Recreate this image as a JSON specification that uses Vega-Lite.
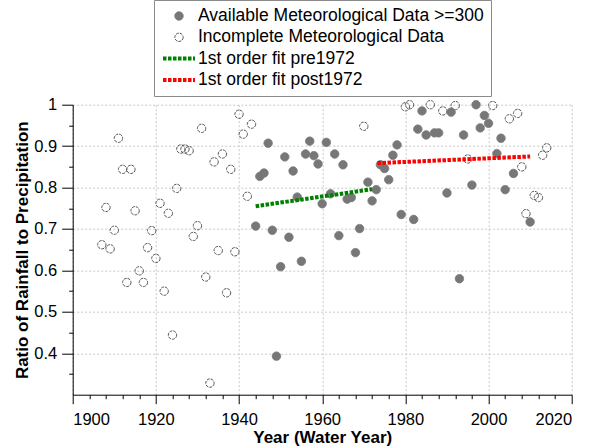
{
  "$schema": "https://vega.github.io/schema/vega-lite/v6.json",
  "width": 499,
  "height": 290,
  "autosize": {"type": "none"},
  "padding": {"left": 72.7, "top": 104.7, "right": 28.3, "bottom": 52.3},
  "background": "white",
  "config": {
    "view": {"stroke": null},
    "font": "Liberation Sans",
    "axis": {
      "domainColor": "black",
      "tickColor": "black",
      "labelColor": "black",
      "titleColor": "black",
      "labelFont": "Liberation Sans",
      "titleFont": "Liberation Sans",
      "labelFontSize": 16.5,
      "titleFontSize": 17,
      "titleFontWeight": "bold",
      "gridColor": "#c8c8c8",
      "gridDash": [2, 2],
      "domainWidth": 1,
      "tickWidth": 1
    }
  },
  "datasets": {
    "obs": [
      {"year": 1907, "ratio": 0.662, "series": "Incomplete Meteorological Data"},
      {"year": 1908, "ratio": 0.752, "series": "Incomplete Meteorological Data"},
      {"year": 1909, "ratio": 0.652, "series": "Incomplete Meteorological Data"},
      {"year": 1910, "ratio": 0.697, "series": "Incomplete Meteorological Data"},
      {"year": 1911, "ratio": 0.919, "series": "Incomplete Meteorological Data"},
      {"year": 1912, "ratio": 0.844, "series": "Incomplete Meteorological Data"},
      {"year": 1913, "ratio": 0.571, "series": "Incomplete Meteorological Data"},
      {"year": 1914, "ratio": 0.844, "series": "Incomplete Meteorological Data"},
      {"year": 1915, "ratio": 0.744, "series": "Incomplete Meteorological Data"},
      {"year": 1916, "ratio": 0.599, "series": "Incomplete Meteorological Data"},
      {"year": 1917, "ratio": 0.571, "series": "Incomplete Meteorological Data"},
      {"year": 1918, "ratio": 0.655, "series": "Incomplete Meteorological Data"},
      {"year": 1919, "ratio": 0.696, "series": "Incomplete Meteorological Data"},
      {"year": 1920, "ratio": 0.629, "series": "Incomplete Meteorological Data"},
      {"year": 1921, "ratio": 0.762, "series": "Incomplete Meteorological Data"},
      {"year": 1922, "ratio": 0.550, "series": "Incomplete Meteorological Data"},
      {"year": 1923, "ratio": 0.738, "series": "Incomplete Meteorological Data"},
      {"year": 1924, "ratio": 0.444, "series": "Incomplete Meteorological Data"},
      {"year": 1925, "ratio": 0.798, "series": "Incomplete Meteorological Data"},
      {"year": 1926, "ratio": 0.893, "series": "Incomplete Meteorological Data"},
      {"year": 1927, "ratio": 0.893, "series": "Incomplete Meteorological Data"},
      {"year": 1928, "ratio": 0.889, "series": "Incomplete Meteorological Data"},
      {"year": 1929, "ratio": 0.682, "series": "Incomplete Meteorological Data"},
      {"year": 1930, "ratio": 0.708, "series": "Incomplete Meteorological Data"},
      {"year": 1931, "ratio": 0.943, "series": "Incomplete Meteorological Data"},
      {"year": 1932, "ratio": 0.584, "series": "Incomplete Meteorological Data"},
      {"year": 1933, "ratio": 0.328, "series": "Incomplete Meteorological Data"},
      {"year": 1934, "ratio": 0.862, "series": "Incomplete Meteorological Data"},
      {"year": 1935, "ratio": 0.648, "series": "Incomplete Meteorological Data"},
      {"year": 1936, "ratio": 0.881, "series": "Incomplete Meteorological Data"},
      {"year": 1937, "ratio": 0.546, "series": "Incomplete Meteorological Data"},
      {"year": 1938, "ratio": 0.844, "series": "Incomplete Meteorological Data"},
      {"year": 1939, "ratio": 0.645, "series": "Incomplete Meteorological Data"},
      {"year": 1940, "ratio": 0.977, "series": "Incomplete Meteorological Data"},
      {"year": 1941, "ratio": 0.929, "series": "Incomplete Meteorological Data"},
      {"year": 1942, "ratio": 0.779, "series": "Incomplete Meteorological Data"},
      {"year": 1943, "ratio": 0.953, "series": "Incomplete Meteorological Data"},
      {"year": 1970, "ratio": 0.948, "series": "Incomplete Meteorological Data"},
      {"year": 1980, "ratio": 0.995, "series": "Incomplete Meteorological Data"},
      {"year": 1981, "ratio": 1.0, "series": "Incomplete Meteorological Data"},
      {"year": 1986, "ratio": 1.0, "series": "Incomplete Meteorological Data"},
      {"year": 1989, "ratio": 0.985, "series": "Incomplete Meteorological Data"},
      {"year": 1992, "ratio": 0.998, "series": "Incomplete Meteorological Data"},
      {"year": 1995, "ratio": 0.869, "series": "Incomplete Meteorological Data"},
      {"year": 2001, "ratio": 0.998, "series": "Incomplete Meteorological Data"},
      {"year": 2005, "ratio": 0.966, "series": "Incomplete Meteorological Data"},
      {"year": 2007, "ratio": 0.979, "series": "Incomplete Meteorological Data"},
      {"year": 2008, "ratio": 0.850, "series": "Incomplete Meteorological Data"},
      {"year": 2009, "ratio": 0.737, "series": "Incomplete Meteorological Data"},
      {"year": 2011, "ratio": 0.781, "series": "Incomplete Meteorological Data"},
      {"year": 2012, "ratio": 0.776, "series": "Incomplete Meteorological Data"},
      {"year": 2013, "ratio": 0.878, "series": "Incomplete Meteorological Data"},
      {"year": 2014, "ratio": 0.896, "series": "Incomplete Meteorological Data"},
      {"year": 1944, "ratio": 0.707, "series": "Available Meteorological Data >=300"},
      {"year": 1945, "ratio": 0.827, "series": "Available Meteorological Data >=300"},
      {"year": 1946, "ratio": 0.835, "series": "Available Meteorological Data >=300"},
      {"year": 1947, "ratio": 0.907, "series": "Available Meteorological Data >=300"},
      {"year": 1948, "ratio": 0.697, "series": "Available Meteorological Data >=300"},
      {"year": 1949, "ratio": 0.393, "series": "Available Meteorological Data >=300"},
      {"year": 1950, "ratio": 0.609, "series": "Available Meteorological Data >=300"},
      {"year": 1951, "ratio": 0.874, "series": "Available Meteorological Data >=300"},
      {"year": 1952, "ratio": 0.680, "series": "Available Meteorological Data >=300"},
      {"year": 1953, "ratio": 0.840, "series": "Available Meteorological Data >=300"},
      {"year": 1954, "ratio": 0.777, "series": "Available Meteorological Data >=300"},
      {"year": 1955, "ratio": 0.622, "series": "Available Meteorological Data >=300"},
      {"year": 1956, "ratio": 0.881, "series": "Available Meteorological Data >=300"},
      {"year": 1957, "ratio": 0.912, "series": "Available Meteorological Data >=300"},
      {"year": 1958, "ratio": 0.877, "series": "Available Meteorological Data >=300"},
      {"year": 1959, "ratio": 0.857, "series": "Available Meteorological Data >=300"},
      {"year": 1960, "ratio": 0.761, "series": "Available Meteorological Data >=300"},
      {"year": 1961, "ratio": 0.909, "series": "Available Meteorological Data >=300"},
      {"year": 1962, "ratio": 0.785, "series": "Available Meteorological Data >=300"},
      {"year": 1963, "ratio": 0.881, "series": "Available Meteorological Data >=300"},
      {"year": 1964, "ratio": 0.684, "series": "Available Meteorological Data >=300"},
      {"year": 1965, "ratio": 0.855, "series": "Available Meteorological Data >=300"},
      {"year": 1966, "ratio": 0.772, "series": "Available Meteorological Data >=300"},
      {"year": 1967, "ratio": 0.776, "series": "Available Meteorological Data >=300"},
      {"year": 1968, "ratio": 0.643, "series": "Available Meteorological Data >=300"},
      {"year": 1969, "ratio": 0.701, "series": "Available Meteorological Data >=300"},
      {"year": 1971, "ratio": 0.813, "series": "Available Meteorological Data >=300"},
      {"year": 1972, "ratio": 0.768, "series": "Available Meteorological Data >=300"},
      {"year": 1973, "ratio": 0.795, "series": "Available Meteorological Data >=300"},
      {"year": 1974, "ratio": 0.855, "series": "Available Meteorological Data >=300"},
      {"year": 1975, "ratio": 0.846, "series": "Available Meteorological Data >=300"},
      {"year": 1976, "ratio": 0.819, "series": "Available Meteorological Data >=300"},
      {"year": 1977, "ratio": 0.878, "series": "Available Meteorological Data >=300"},
      {"year": 1978, "ratio": 0.903, "series": "Available Meteorological Data >=300"},
      {"year": 1979, "ratio": 0.735, "series": "Available Meteorological Data >=300"},
      {"year": 1982, "ratio": 0.723, "series": "Available Meteorological Data >=300"},
      {"year": 1983, "ratio": 0.941, "series": "Available Meteorological Data >=300"},
      {"year": 1984, "ratio": 0.985, "series": "Available Meteorological Data >=300"},
      {"year": 1985, "ratio": 0.927, "series": "Available Meteorological Data >=300"},
      {"year": 1987, "ratio": 0.932, "series": "Available Meteorological Data >=300"},
      {"year": 1988, "ratio": 0.932, "series": "Available Meteorological Data >=300"},
      {"year": 1990, "ratio": 0.787, "series": "Available Meteorological Data >=300"},
      {"year": 1991, "ratio": 0.982, "series": "Available Meteorological Data >=300"},
      {"year": 1993, "ratio": 0.580, "series": "Available Meteorological Data >=300"},
      {"year": 1994, "ratio": 0.927, "series": "Available Meteorological Data >=300"},
      {"year": 1996, "ratio": 0.806, "series": "Available Meteorological Data >=300"},
      {"year": 1997, "ratio": 1.0, "series": "Available Meteorological Data >=300"},
      {"year": 1998, "ratio": 0.944, "series": "Available Meteorological Data >=300"},
      {"year": 1999, "ratio": 0.974, "series": "Available Meteorological Data >=300"},
      {"year": 2000, "ratio": 0.955, "series": "Available Meteorological Data >=300"},
      {"year": 2002, "ratio": 0.882, "series": "Available Meteorological Data >=300"},
      {"year": 2003, "ratio": 0.919, "series": "Available Meteorological Data >=300"},
      {"year": 2004, "ratio": 0.795, "series": "Available Meteorological Data >=300"},
      {"year": 2006, "ratio": 0.834, "series": "Available Meteorological Data >=300"},
      {"year": 2010, "ratio": 0.717, "series": "Available Meteorological Data >=300"}
    ],
    "fit": [
      {"year": 1944, "ratio": 0.755, "series": "1st order fit pre1972"},
      {"year": 1972, "ratio": 0.796, "series": "1st order fit pre1972"},
      {"year": 1973.3, "ratio": 0.859, "series": "1st order fit post1972"},
      {"year": 2010, "ratio": 0.875, "series": "1st order fit post1972"}
    ]
  },
  "layer": [
    {
      "data": {"name": "obs"},
      "mark": {"type": "point", "filled": true, "opacity": 1},
      "encoding": {
        "x": {
          "field": "year", "type": "quantitative",
          "scale": {"domain": [1900, 2020], "nice": false, "zero": false},
          "axis": {
            "orient": "bottom",
            "values": [1900, 1920, 1940, 1960, 1980, 2000, 2020],
            "format": "d",
            "title": "Year (Water Year)",
            "grid": true,
            "tickSize": 9,
            "labelPadding": 8,
            "titlePadding": 1
          }
        },
        "y": {
          "field": "ratio", "type": "quantitative",
          "scale": {"domain": [0.3, 1], "nice": false, "zero": false},
          "axis": {
            "orient": "left",
            "values": [0.4, 0.5, 0.6, 0.7, 0.8, 0.9, 1],
            "format": "~g",
            "title": "Ratio of Rainfall to Precipitation",
            "grid": true,
            "tickSize": 11,
            "labelPadding": 5,
            "titlePadding": 2
          }
        },
        "shape": {
          "field": "series", "type": "nominal",
          "scale": {
            "domain": ["Available Meteorological Data >=300", "Incomplete Meteorological Data", "1st order fit pre1972", "1st order fit post1972"],
            "range": ["circle", "circle", "stroke", "stroke"]
          }
        },
        "fill": {
          "field": "series", "type": "nominal",
          "scale": {
            "domain": ["Available Meteorological Data >=300", "Incomplete Meteorological Data", "1st order fit pre1972", "1st order fit post1972"],
            "range": ["#777777", "transparent", "#008000", "#ff0000"]
          }
        },
        "size": {
          "field": "series", "type": "ordinal",
          "scale": {
            "type": "ordinal",
            "domain": ["Available Meteorological Data >=300", "Incomplete Meteorological Data", "1st order fit pre1972", "1st order fit post1972"],
            "range": [70, 70, 1024, 1024]
          }
        },
        "strokeWidth": {
          "field": "series", "type": "ordinal",
          "scale": {
            "type": "ordinal",
            "domain": ["Available Meteorological Data >=300", "Incomplete Meteorological Data", "1st order fit pre1972", "1st order fit post1972"],
            "range": [1, 1, 4, 4]
          }
        },
        "strokeDash": {
          "field": "series", "type": "nominal",
          "scale": {
            "domain": ["Available Meteorological Data >=300", "Incomplete Meteorological Data", "1st order fit pre1972", "1st order fit post1972"],
            "range": [[1, 0], [3, 1], [3.5, 1.5], [3.5, 1.5]]
          }
        },
        "stroke": {
          "field": "series", "type": "nominal",
          "scale": {
            "domain": ["Available Meteorological Data >=300", "Incomplete Meteorological Data", "1st order fit pre1972", "1st order fit post1972"],
            "range": ["#777777", "#555555", "#008000", "#ff0000"]
          },
          "legend": {
            "orient": "none",
            "legendX": 81.3,
            "legendY": -104.7,
            "title": null,
            "strokeColor": "#8a8a8a",
            "fillColor": "white",
            "padding": 7,
            "symbolOffset": 0,
            "clipHeight": 18,
            "labelFont": "Liberation Sans",
            "labelFontSize": 17.5,
            "labelColor": "black",
            "labelOffset": 1,
            "labelLimit": 400,
            "rowPadding": 3.3,
            "symbolOpacity": 1
          }
        }
      }
    },
    {
      "data": {"name": "fit"},
      "mark": {"type": "line", "strokeCap": "butt", "strokeWidth": 4},
      "encoding": {
        "x": {
          "field": "year", "type": "quantitative",
          "axis": {
            "orient": "bottom",
            "values": [1904, 1908, 1912, 1916, 1924, 1928, 1932, 1936, 1944, 1948, 1952, 1956, 1964, 1968, 1972, 1976, 1984, 1988, 1992, 1996, 2004, 2008, 2012, 2016],
            "labels": false, "title": null, "grid": false, "domain": false, "tickSize": 4
          }
        },
        "y": {
          "field": "ratio", "type": "quantitative",
          "axis": {
            "orient": "left",
            "values": [0.35, 0.45, 0.55, 0.65, 0.75, 0.85, 0.95],
            "labels": false, "title": null, "grid": false, "domain": false, "tickSize": 4
          }
        },
        "stroke": {"field": "series", "type": "nominal", "legend": null},
        "strokeDash": {"field": "series", "type": "nominal", "legend": null},
        "detail": {"field": "series", "type": "nominal"}
      }
    }
  ],
  "resolve": {"axis": {"x": "independent", "y": "independent"}}
}
